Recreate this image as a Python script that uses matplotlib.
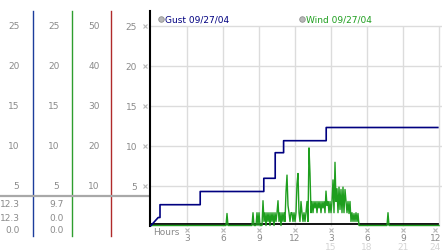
import numpy as np
import matplotlib.pyplot as plt

# gust (mph)
gust_hours = [0, 0.6, 0.75, 0.75, 4.1, 4.1, 9.4, 9.4, 10.35, 10.35, 11.05, 11.05, 14.6, 14.6, 23.9]
gust_mph = [0, 1.0, 1.0, 2.6, 2.6, 4.25, 4.25, 5.9, 5.9, 9.1, 9.1, 10.6, 10.6, 12.25, 12.25]

# wind (mph), one row per hour, 5 minute samples
wind_mph = (
    [0] * 72 +                                                      # 00-05
    [0, 0, 0, 0, 1.5, 0, 0, 0, 0, 0, 0, 0] +                        # 06
    [0] * 12 +                                                      # 07
    [0, 0, 0, 0, 0, 0, 1.6, 0, 0, 0, 1.6, 0] +                      # 08
    [1.6, 0, 0, 0, 3.1, 0.5, 1.6, 0, 1.6, 0.5, 1.6, 0] +            # 09
    [1.6, 0.5, 1.6, 0, 1.6, 0.5, 1.6, 3.1, 0.5, 1.6, 0, 1.6] +      # 10
    [0.5, 1.6, 0.5, 4.2, 6.3, 2.5, 1.6, 0.5, 1.6, 1.6, 0.5, 1.6] +  # 11
    [0.5, 1.6, 5.2, 6.5, 1.6, 0.5, 3.0, 1.6, 0.5, 1.6, 0.5, 1.6] +  # 12
    [3.0, 0.5, 9.7, 6.5, 1.6, 3.0, 1.6, 3.0, 2.2, 3.0, 1.6, 3.0] +  # 13
    [2.2, 3.0, 1.6, 3.0, 2.2, 3.0, 1.6, 4.3, 2.5, 3.0, 1.6, 3.0] +  # 14
    [1.6, 3.0, 5.7, 1.6, 7.9, 3.0, 4.6, 1.6, 4.8, 2.0, 4.5, 1.6] +  # 15
    [4.8, 1.6, 4.5, 3.0, 1.6, 3.0, 1.5, 3.0, 0.5, 1.6, 0.5, 1.5] +  # 16
    [0.5, 1.6, 0.5, 1.5, 0, 0, 0, 0, 0, 0, 0, 0] +                  # 17
    [0] * 12 +                                                      # 18
    [0, 0, 0, 0, 0, 0, 0, 0, 0, 1.6, 0, 0] +                        # 19
    [0] * 48 +                                                      # 20-23
    [0]
)
wind_hours = np.linspace(0, 24, len(wind_mph))

series_names = ['Gust 09/27/04', 'Wind 09/27/04']
series_colors = ['#000080', '#1e9e1e']

main_ticks = [5, 10, 15, 20, 25]
col_ticks = [[5, 10, 15, 20, 25], [5, 10, 15, 20, 25], [10, 20, 30, 40, 50]]
col_colors = ['#1c3d9c', '#2e9e2e', '#b02a2a']

hour_ticks = [3, 6, 9, 12, 15, 18, 21, 24]
hour_labels = ['3', '6', '9', '12', '3', '6', '9', '12']
hour_labels2 = ['', '', '', '', '15', '18', '21', '24']

# readout table: max / current / min
gust_table = ['12.3', '12.3', '0.0']
wind_table = ['9.7', '0.0', '0.0']

grey = '#8a8a8a'
grid_c = '#dcdcdc'
fs = 6.5
ylo, yhi = -3.3125, 28.3125

fig = plt.figure(figsize=(4.42, 2.53), dpi=100)

# ---- left scale panel (x in pixels) ----
lax = fig.add_axes([0, 0, 149.5 / 442, 1])
lax.set_xlim(0, 149.5)
lax.set_ylim(ylo, yhi)
lax.axis('off')

line_x = [33, 72, 111]
label_x = [19.5, 59.5, 99.5]
for i in range(3):
    lax.plot([line_x[i], line_x[i]], [26.8, -1.3], color=col_colors[i], lw=1)
    scale = col_ticks[i][0] / main_ticks[0]
    for t in col_ticks[i]:
        lax.text(label_x[i], t / scale, str(t), ha='right', va='center',
                 fontsize=fs, color=grey)

lax.axhline(3.69, color='#a8a8a8', lw=1.6)
row_y = [2.69, 1.06, -0.56]
for k in range(3):
    lax.text(19.5, row_y[k], gust_table[k], ha='right', va='center', fontsize=fs, color=grey)
    lax.text(64, row_y[k], wind_table[k], ha='right', va='center', fontsize=fs, color=grey)

# ---- main chart ----
ax = fig.add_axes([149.5 / 442, 0, 292.5 / 442, 1])
ax.set_xlim(-0.125, 24.25)
ax.set_ylim(ylo, yhi)
ax.patch.set_alpha(0)
for s in ['top', 'right']:
    ax.spines[s].set_visible(False)
ax.spines['left'].set_bounds(-0.1, 26.8)
ax.spines['left'].set_linewidth(1.5)
ax.spines['bottom'].set_position(('data', 0.15))
ax.spines['bottom'].set_bounds(0, 23.9)
ax.spines['bottom'].set_linewidth(1.3)

ax.set_yticks(main_ticks)
ax.set_yticklabels([str(t) for t in main_ticks])
ax.tick_params(axis='y', length=0, pad=9, labelsize=fs, labelcolor=grey)
ax.set_xticks([])
ax.yaxis.grid(True, color=grid_c, lw=1)
ax.set_axisbelow(True)
ax.vlines(hour_ticks, 0, 25, color=grid_c, lw=1, zorder=0)

# last hour label is pulled in so it stays inside the picture
label_pos = [min(h, 23.7) for h in hour_ticks]
ax.plot(np.full(len(main_ticks), -0.5), main_ticks, 'x', ms=2.5, mew=0.8,
        color='#b8b8b8', clip_on=False)
ax.plot(label_pos, np.full(len(hour_ticks), -0.56), 'x', ms=2.5, mew=0.8,
        color='#b8b8b8', clip_on=False)
for h, a, b in zip(label_pos, hour_labels, hour_labels2):
    ax.text(h, -1.44, a, ha='center', va='center', fontsize=fs, color=grey)
    ax.text(h, -2.6, b, ha='center', va='center', fontsize=fs, color='#d4d4d4')
ax.text(0.17, -0.7, 'Hours', ha='left', va='center', fontsize=fs, color=grey)

ax.plot(wind_hours, wind_mph, color=series_colors[1], lw=1, zorder=3)
ax.plot(gust_hours, gust_mph, color=series_colors[0], lw=1.2, zorder=4)

leg_x = [0.83, 12.58]
for x, name, c in zip(leg_x, series_names, series_colors):
    ax.plot([x], [25.8], 'o', ms=4, mfc='#b8b8b8', mec='#909090', mew=0.6, clip_on=False)
    ax.text(x + 0.33, 25.8, name, ha='left', va='center', fontsize=fs, color=c)

fig.savefig('out.png', dpi=100)
